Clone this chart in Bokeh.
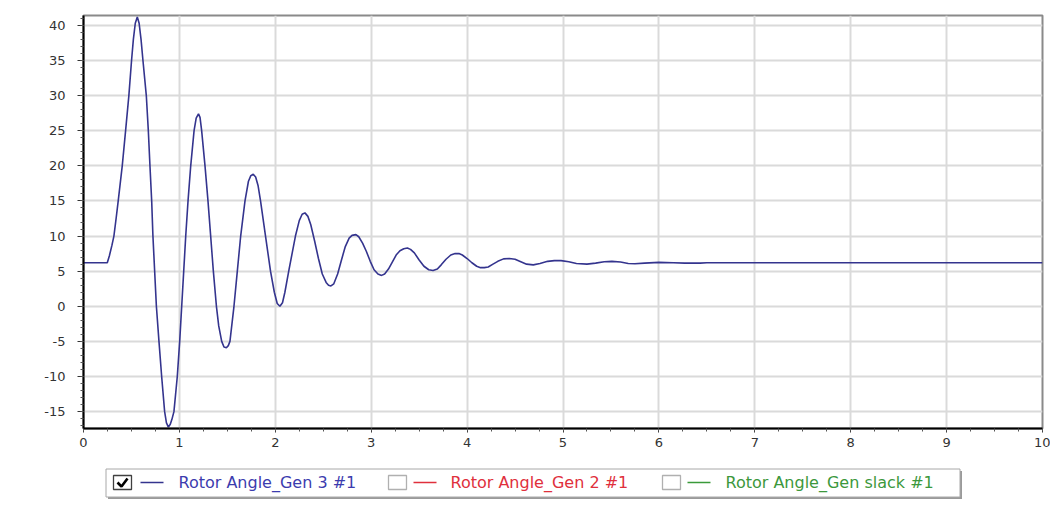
from bokeh.plotting import figure
from bokeh.layouts import column
from bokeh.models import Range1d, FixedTicker, PrintfTickFormatter
from bokeh.core.properties import value
from bokeh.embed import file_html
from bokeh.resources import INLINE

# ---------------- data ----------------
time_s = [0.00, 0.248, 0.27, 0.295, 0.317, 0.34, 0.362, 0.383, 0.404, 0.439, 0.473, 0.501,
          0.52, 0.54, 0.561, 0.58, 0.60, 0.620, 0.655, 0.676, 0.693, 0.711, 0.724, 0.742,
          0.760, 0.787, 0.815, 0.846, 0.865, 0.885, 0.905, 0.922, 0.943, 0.978, 1.003,
          1.024, 1.045, 1.066, 1.090, 1.118, 1.153, 1.175, 1.199, 1.215, 1.232, 1.267,
          1.298, 1.326, 1.354, 1.386, 1.41, 1.441, 1.465, 1.490, 1.51, 1.527, 1.569,
          1.604, 1.639, 1.684, 1.72, 1.745, 1.770, 1.795, 1.82, 1.846, 1.898, 1.950,
          1.99, 2.02, 2.048, 2.075, 2.10, 2.140, 2.210, 2.25, 2.28, 2.309, 2.34, 2.37,
          2.41, 2.45, 2.49, 2.53, 2.555, 2.580, 2.61, 2.65, 2.69, 2.73, 2.77, 2.80,
          2.841, 2.87, 2.91, 2.95, 2.99, 3.03, 3.07, 3.108, 3.14, 3.18, 3.22, 3.26,
          3.30, 3.34, 3.377, 3.41, 3.45, 3.50, 3.55, 3.60, 3.645, 3.69, 3.73, 3.78,
          3.83, 3.875, 3.915, 3.95, 4.00, 4.05, 4.10, 4.14, 4.18, 4.22, 4.27, 4.32,
          4.38, 4.44, 4.50, 4.56, 4.62, 4.69, 4.76, 4.84, 4.91, 4.98, 5.06, 5.14,
          5.25, 5.34, 5.43, 5.51, 5.60, 5.68, 5.75, 5.85, 6.00, 6.15, 6.27, 6.43,
          6.50, 10.00]
rotor_angle_gen3 = [6.2, 6.2, 7.2, 8.6, 10.0, 12.5, 15.0, 17.5, 20.0, 25.0, 30.0, 35.0,
                    38.0, 40.3, 41.2, 40.3, 38.0, 35.0, 30.0, 25.0, 20.0, 15.0, 10.0, 5.0,
                    0.0, -5.0, -10.0, -15.0, -16.6, -17.2, -16.8, -16.1, -15.0, -10.0, -5.0,
                    0.0, 5.0, 10.0, 15.0, 20.0, 25.0, 26.8, 27.4, 26.9, 25.0, 20.0,
                    15.0, 10.0, 5.0, 0.0, -2.8, -5.0, -5.8, -5.9, -5.6, -5.0, 0.0,
                    5.0, 10.0, 15.0, 17.8, 18.6, 18.8, 18.4, 17.2, 15.0, 10.0, 5.0,
                    2.0, 0.4, 0.0, 0.5, 2.0, 5.0, 10.0, 12.2, 13.1, 13.3, 12.8, 11.6,
                    9.3, 6.8, 4.6, 3.4, 3.0, 2.9, 3.2, 4.6, 6.6, 8.5, 9.7, 10.1,
                    10.2, 9.9, 9.0, 7.8, 6.4, 5.2, 4.6, 4.4, 4.6, 5.3, 6.3, 7.3,
                    7.9, 8.2, 8.3, 8.1, 7.6, 6.6, 5.7, 5.2, 5.1, 5.3, 5.9, 6.7,
                    7.3, 7.5, 7.5, 7.3, 6.8, 6.2, 5.7, 5.5, 5.5, 5.6, 6.0, 6.4,
                    6.75, 6.8, 6.7, 6.35, 6.0, 5.9, 6.1, 6.4, 6.5, 6.5, 6.35, 6.1,
                    6.0, 6.15, 6.35, 6.4, 6.3, 6.1, 6.05, 6.15, 6.25, 6.2, 6.15, 6.15,
                    6.2, 6.2]

x_ticks = [0, 1, 2, 3, 4, 5, 6, 7, 8, 9, 10]
y_ticks = [-15, -10, -5, 0, 5, 10, 15, 20, 25, 30, 35, 40]

legend_labels = ["Rotor Angle_Gen 3 #1", "Rotor Angle_Gen 2 #1", "Rotor Angle_Gen slack #1"]
legend_checked = [True, False, False]
line_colors = ["#34348e", "#e0303c", "#3a9a3a"]
text_colors = ["#3c3cae", "#e0303c", "#3c983c"]

FONT = "DejaVu Sans"

# ---------------- main plot ----------------
p = figure(width=1050, height=456, output_backend="svg", toolbar_location=None,
           x_range=Range1d(0, 10), y_range=Range1d(-17.4, 41.4),
           min_border_left=83, min_border_right=8, min_border_top=15, min_border_bottom=28,
           background_fill_color="white", border_fill_color="white")
p.outline_line_color = "#8a8a8a"
p.outline_line_width = 2

p.line(time_s, rotor_angle_gen3, line_color=line_colors[0], line_width=1.6)

for ax, ticks in ((p.xaxis, x_ticks), (p.yaxis, y_ticks)):
    ax.ticker = FixedTicker(ticks=ticks,
                            minor_ticks=[t / 4 for t in range(0, 41)] if ticks is x_ticks
                            else list(range(-17, 42)))
    ax.formatter = PrintfTickFormatter(format="%d")
    ax.axis_line_color = "black"
    ax.axis_line_width = 2
    ax.major_tick_line_color = "#333333"
    ax.minor_tick_line_color = "#555555"
    ax.major_tick_in = 0
    ax.minor_tick_in = 0
    ax.major_label_text_font = FONT
    ax.major_label_text_font_size = "13px"
    ax.major_label_text_color = "#333333"

p.xaxis.major_tick_out = 4
p.xaxis.minor_tick_out = 3
p.xaxis.major_label_standoff = 5
p.yaxis.major_tick_out = 6
p.yaxis.minor_tick_out = 3
p.yaxis.major_label_standoff = 12

p.xgrid.ticker = FixedTicker(ticks=x_ticks)
p.ygrid.ticker = FixedTicker(ticks=y_ticks)
for g in (p.xgrid, p.ygrid):
    g.grid_line_color = "#dadada"
    g.grid_line_width = 2

# ---------------- legend strip (data coords = page pixels) ----------------
L = figure(width=1050, height=44, output_backend="svg", toolbar_location=None,
           x_range=Range1d(83, 1042), y_range=Range1d(44, 0),
           x_axis_location=None, y_axis_location=None,
           min_border_left=83, min_border_right=8,
           min_border_top=0, min_border_bottom=0,
           background_fill_color="white", border_fill_color="white")
L.outline_line_color = None
L.grid.visible = False

# frame with shadow
L.quad(left=[107.5], right=[961.5], top=[14.5], bottom=[42.5], fill_color="#9a9a9a",
       line_color=None)
L.quad(left=[105.5], right=[959.5], top=[12.5], bottom=[40.5], fill_color="white",
       line_color="#a8a8a8", line_width=1)

box_x = [113, 388, 662]
line_x = [140, 413, 687]
text_x = [178, 450, 725]
for i, lab in enumerate(legend_labels):
    bx = box_x[i]
    L.quad(left=[bx], right=[bx + 18], top=[19], bottom=[33], fill_color="white",
           line_color="#404040" if legend_checked[i] else "#b0b0b0", line_width=1.3)
    if legend_checked[i]:
        L.line([bx + 4, bx + 8, bx + 14], [26, 30, 22], line_color="black", line_width=2.6)
    L.segment(x0=[line_x[i]], y0=[26], x1=[line_x[i] + 23], y1=[26],
              line_color=line_colors[i], line_width=1.5)
    L.text(x=[text_x[i]], y=[26], text=[lab], text_color=text_colors[i],
           text_font=value(FONT), text_font_size="16px", text_baseline="middle",
           text_align="left")

layout = column(p, L, spacing=0)
open("out.html", "w").write(file_html(layout, INLINE))
